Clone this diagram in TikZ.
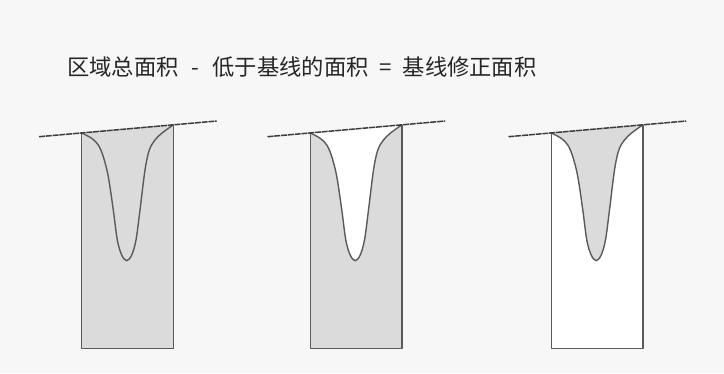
\documentclass[tikz,border=0pt]{standalone}
\usepackage{fontspec}
\newfontfamily\cjk{Noto Sans CJK SC}
\definecolor{bg}{HTML}{F7F7F7}
\definecolor{areafill}{HTML}{DBDBDB}
\definecolor{edge}{HTML}{5A5A5A}
\definecolor{lineclr}{HTML}{3C3C3C}
\tikzset{
  outline/.style={draw=edge, line width=1.4pt, line join=round},
  baseln/.style={draw=lineclr, line width=1.5pt, dash pattern=on 6pt off 0.8pt},
  titletext/.style={anchor=west, inner sep=0pt, text=black!85, font=\cjk\fontsize{22.3}{22.3}\selectfont}
}
\begin{document}
\begin{tikzpicture}[x=1pt,y=-1pt]
\fill[bg] (0,0) rectangle (724,373);
\useasboundingbox (0,0) rectangle (724,373);
\node[titletext] (title) at (67,67) {区域总面积\makebox[34pt]{-}低于基线的面积\makebox[34pt]{=}基线修正面积};
\foreach \dx/\rc/\vc/\nm in {0/areafill/areafill/a, 228.5/areafill/white/b, 469.5/white/areafill/c}{
  \begin{scope}[shift={(\dx,0)}]
    \coordinate (\nm-bl) at (39,136.7);
    \coordinate (\nm-br) at (216.7,121);
    \coordinate (\nm-tl) at (81.7,132.9);
    \coordinate (\nm-tr) at (173.3,124.8);
    \coordinate (\nm-dl) at (81.7,348.3);
    \coordinate (\nm-dr) at (173.3,348.3);
    \fill[\rc] (\nm-tl) -- (\nm-tr) -- (\nm-dr) -- (\nm-dl) -- cycle;
    \fill[\vc] plot[smooth,tension=0.55] coordinates {(81.7,132.9) (91.7,138.3) (98.3,145) (103.3,156.7) (108.3,176.7) (113.3,210) (117.3,240) (121.7,255) (126.7,260.7) (131.7,255) (136,240) (140,210) (145,170) (149.3,150) (155,140) (161.7,133.3) (173.3,124.8)} -- cycle;
    \draw[outline] (\nm-tl) -- (\nm-dl) -- (\nm-dr) -- (\nm-tr);
    \draw[outline] plot[smooth,tension=0.55] coordinates {(81.7,132.9) (91.7,138.3) (98.3,145) (103.3,156.7) (108.3,176.7) (113.3,210) (117.3,240) (121.7,255) (126.7,260.7) (131.7,255) (136,240) (140,210) (145,170) (149.3,150) (155,140) (161.7,133.3) (173.3,124.8)};
    \draw[baseln] (\nm-bl) -- (\nm-br);
  \end{scope}
}
\end{tikzpicture}
\end{document}
